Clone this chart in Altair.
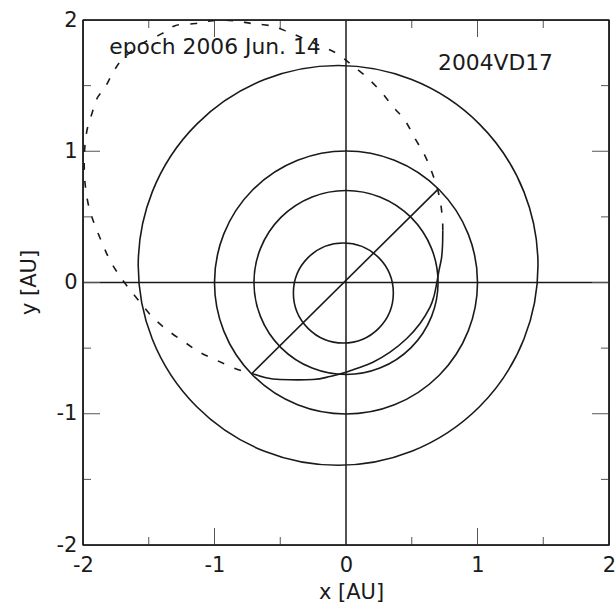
import altair as alt
import pandas as pd

# ---- data ----
# planet orbits (Mercury, Venus, Earth, Mars): centre and radius in AU
orbit_names = ["Mercury", "Venus", "Earth", "Mars"]
orbit_cx = [-0.02, 0.0, 0.0, -0.06]
orbit_cy = [-0.08, 0.0, 0.0, 0.13]
orbit_r = [0.38, 0.70, 1.00, 1.52]

# 2004 VD17 orbit, part drawn dashed
dash_x = [0.736, 0.734, 0.722, 0.697, 0.654, 0.600, 0.525, 0.449, 0.357, 0.259,
          0.144, 0.030, -0.068, -0.198, -0.464, -0.578, -0.715, -0.859, -1.011,
          -1.148, -1.300, -1.400, -1.551, -1.696, -1.772, -1.833, -1.894, -1.932,
          -1.970, -1.988, -1.990, -1.980, -1.954, -1.909, -1.856, -1.802, -1.734,
          -1.650, -1.559, -1.468, -1.354, -1.224, -1.110, -0.981, -0.844, -0.715]
dash_y = [0.396, 0.472, 0.586, 0.708, 0.838, 0.967, 1.097, 1.234, 1.340, 1.462,
          1.576, 1.668, 1.744, 1.805, 1.919, 1.957, 1.973, 1.995, 1.995,
          1.973, 1.957, 1.896, 1.820, 1.706, 1.600, 1.485, 1.401, 1.287,
          1.158, 1.005, 0.853, 0.716, 0.571, 0.434, 0.305, 0.183, 0.069,
          -0.046, -0.160, -0.267, -0.366, -0.457, -0.533, -0.594, -0.655, -0.693]

# 2004 VD17 orbit, part drawn solid
solid_x = [0.736, 0.734, 0.726, 0.707, 0.690, 0.670, 0.639, 0.563, 0.462, 0.335,
           0.205, 0.081, 0.000, -0.122, -0.251, -0.502, -0.616, -0.715]
solid_y = [0.396, 0.282, 0.183, 0.091, -0.005, -0.100, -0.188, -0.312, -0.427, -0.531,
           -0.607, -0.655, -0.683, -0.716, -0.739, -0.739, -0.724, -0.693]

# line of nodes
node_x = [-0.715, 0.697]
node_y = [-0.693, 0.708]

axis_values = [-2, -1, 0, 1, 2]
major_ticks = [-1, 0, 1]
minor_ticks = [-1.5, -0.5, 0.5, 1.5]
frame_values = [-2, 2]

label_texts = ["epoch 2006 Jun. 14", "2004VD17"]
label_x = [-1.80, 0.70]
label_y = [1.744, 1.622]

# ---- chart ----
W, H = 526, 525
FONT = "DejaVu Sans"
INK = "#1a1a1a"
TICK = "#555555"

xs = alt.Scale(domain=[-2, 2], nice=False, zero=False)
ys = alt.Scale(domain=[-2, 2], nice=False, zero=False)

x_axis = alt.Axis(values=axis_values, labelExpr="datum.value + ''", grid=False,
                  domain=False, ticks=False, tickSize=0, labelFlush=False,
                  labelOverlap=False, labelPadding=9, labelFontSize=21,
                  labelFont=FONT, labelColor=INK, title="x [AU]",
                  titleFont=FONT, titleFontSize=21, titleFontWeight="normal",
                  titleColor=INK, titleX=268, titleY=36)
y_axis = alt.Axis(values=axis_values, labelExpr="datum.value + ''", grid=False,
                  domain=False, ticks=False, tickSize=0, labelFlush=False,
                  labelOverlap=False, labelPadding=6, labelFontSize=21,
                  labelFont=FONT, labelColor=INK, title="y [AU]",
                  titleFont=FONT, titleFontSize=21, titleFontWeight="normal",
                  titleColor=INK, titleX=-44, titleY=262)

planets = pd.DataFrame({"name": orbit_names, "cx": orbit_cx, "cy": orbit_cy, "r": orbit_r})
dashed = pd.DataFrame({"x": dash_x, "y": dash_y, "i": list(range(len(dash_x)))})
solid = pd.DataFrame({"x": solid_x, "y": solid_y, "i": list(range(len(solid_x)))})
nodes = pd.DataFrame({"x": node_x, "y": node_y, "i": [0, 1]})
labels = pd.DataFrame({"t": label_texts, "x": label_x, "y": label_y})
majors = pd.DataFrame({"v": major_ticks})
minors = pd.DataFrame({"v": minor_ticks})
zero = pd.DataFrame({"v": [0]})
frame = pd.DataFrame({"v": frame_values})

# axes through origin
axes_v = alt.Chart(zero).mark_rule(color=INK, strokeWidth=1.5).encode(
    x=alt.X("v:Q", scale=xs, axis=x_axis), y=alt.value(0), y2=alt.value(H))
axes_h = alt.Chart(zero).mark_rule(color=INK, strokeWidth=1.5).encode(
    y=alt.Y("v:Q", scale=ys, axis=y_axis), x=alt.value(0), x2=alt.value(W))

# frame
frame_v = alt.Chart(frame).mark_rule(color=INK, strokeWidth=1.5).encode(
    x=alt.X("v:Q", scale=xs), y=alt.value(0), y2=alt.value(H))
frame_h = alt.Chart(frame).mark_rule(color=INK, strokeWidth=1.5).encode(
    y=alt.Y("v:Q", scale=ys), x=alt.value(0), x2=alt.value(W))

# planet orbits: circle symbols whose diameter follows the x scale (size = diameter^2)
circles = alt.Chart(planets).mark_point(
    shape="circle", filled=False, stroke=INK, strokeWidth=1.6, opacity=1
).encode(
    x=alt.X("cx:Q", scale=xs),
    y=alt.Y("cy:Q", scale=ys),
    size=alt.Size("r:Q", legend=None,
                  scale=alt.Scale(type="pow", exponent=2, zero=True,
                                  domain=[0, 2], range=[0, W * W])),
)

dashed_line = alt.Chart(dashed).mark_line(
    color=INK, strokeWidth=1.6, strokeDash=[7, 11], interpolate="cardinal", clip=True
).encode(x=alt.X("x:Q", scale=xs), y=alt.Y("y:Q", scale=ys), order="i:Q")

solid_line = alt.Chart(solid).mark_line(
    color=INK, strokeWidth=1.6, interpolate="cardinal"
).encode(x=alt.X("x:Q", scale=xs), y=alt.Y("y:Q", scale=ys), order="i:Q")

node_line = alt.Chart(nodes).mark_line(color=INK, strokeWidth=1.6).encode(
    x=alt.X("x:Q", scale=xs), y=alt.Y("y:Q", scale=ys), order="i:Q")

text = alt.Chart(labels).mark_text(
    align="left", baseline="alphabetic", font=FONT, fontSize=21.8, color=INK
).encode(x=alt.X("x:Q", scale=xs), y=alt.Y("y:Q", scale=ys), text="t:N")

def tick_layers(df, length):
    top = alt.Chart(df).mark_rule(color=TICK, strokeWidth=1).encode(
        x=alt.X("v:Q", scale=xs), y=alt.value(0), y2=alt.value(length))
    bottom = alt.Chart(df).mark_rule(color=TICK, strokeWidth=1).encode(
        x=alt.X("v:Q", scale=xs), y=alt.value(H), y2=alt.value(H - length))
    left = alt.Chart(df).mark_rule(color=TICK, strokeWidth=1).encode(
        y=alt.Y("v:Q", scale=ys), x=alt.value(0), x2=alt.value(length))
    right = alt.Chart(df).mark_rule(color=TICK, strokeWidth=1).encode(
        y=alt.Y("v:Q", scale=ys), x=alt.value(W), x2=alt.value(W - length))
    return [top, bottom, left, right]

layers = [axes_v, axes_h] + tick_layers(majors, 17) + tick_layers(minors, 8) + [
    circles, dashed_line, solid_line, node_line, text, frame_v, frame_h]

chart = alt.layer(*layers).properties(
    width=W, height=H,
    background="white",
    autosize=alt.AutoSizeParams(type="none"),
    padding={"left": 83, "top": 20, "right": 6, "bottom": 63},
).configure_view(stroke="#222222", strokeWidth=1.4)

chart.save("out.html", embed_options={"renderer": "svg", "actions": False})
